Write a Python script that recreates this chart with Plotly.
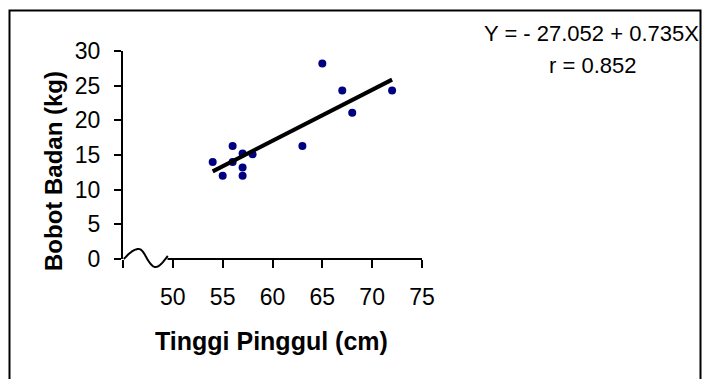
import numpy as np
import plotly.graph_objects as go

# ---- data ----
tinggi = [54, 55, 56, 56, 57, 57, 57, 58, 63, 65, 67, 68, 72]          # Tinggi Pinggul (cm)
bobot = [14.0, 12.0, 16.3, 14.0, 15.2, 13.2, 12.0, 15.1, 16.3, 28.2, 24.3, 21.1, 24.3]  # Bobot Badan (kg)
intercept = -27.052
slope = 0.735
r_value = 0.852
x_ticks = [45, 50, 55, 60, 65, 70, 75]
x_tick_text = ["", "50", "55", "60", "65", "70", "75"]
y_ticks = [0, 5, 10, 15, 20, 25, 30]

# ---- layout geometry (pixels) ----
W, H = 704, 379
ML, MR, MT, MB = 123, 282, 51, 120
PW, PH = W - ML - MR, H - MT - MB
FONT = "Liberation Sans, Arial, sans-serif"


def px(x):
    return (x - ML) / PW


def py(y):
    return (H - MB - y) / PH


fig = go.Figure()

fig.add_trace(go.Scatter(
    x=tinggi, y=bobot, mode="markers",
    marker=dict(color="#000080", size=8, line=dict(width=0)),
    showlegend=False, cliponaxis=False,
))

line_x = np.array([min(tinggi), max(tinggi)], dtype=float)
fig.add_trace(go.Scatter(
    x=line_x, y=intercept + slope * line_x, mode="lines",
    line=dict(color="black", width=4), showlegend=False,
))

# axis-break wave (decoration) built in pixel units relative to the plot origin
def wave_path():
    pts = []
    segs = [
        (0.8, 15.8, lambda s: 10 * np.sin(np.pi / 2 * s)),
        (15.8, 24.2, lambda s: 10 * np.cos(np.pi / 2 * s)),
        (24.2, 32.5, lambda s: -8 * np.sin(np.pi / 2 * s)),
        (32.5, 44.8, lambda s: -8 * np.cos(1.955 * s)),
    ]
    for a, b, f in segs:
        for s in np.linspace(0, 1, 12):
            pts.append((a + (b - a) * s, f(s)))
    d = ""
    for i, (u, v) in enumerate(pts):
        d += ("M" if i == 0 else "L") + f"{u / PW:.5f},{v / PH:.5f} "
    return d

shapes = [
    dict(type="path", path=wave_path(), xref="paper", yref="paper",
         line=dict(color="black", width=2)),
    dict(type="line", xref="paper", yref="paper", x0=44.5 / PW, x1=1, y0=0, y1=0,
         line=dict(color="black", width=2)),
    dict(type="rect", xref="paper", yref="paper", x0=px(9.5), x1=px(700.5), y0=py(10.5), y1=py(390),
         line=dict(color="black", width=2)),
]

annotations = [
    dict(text="Y = - 27.052 + 0.735X", x=px(591), y=py(33), xref="paper", yref="paper",
         showarrow=False, xanchor="center", yanchor="middle",
         font=dict(family=FONT, size=22, color="black")),
    dict(text=f"r = {r_value}", x=px(592), y=py(65), xref="paper", yref="paper",
         showarrow=False, xanchor="center", yanchor="middle",
         font=dict(family=FONT, size=22, color="black")),
    dict(text="<b>Tinggi Pinggul (cm)</b>", x=px(271.5), y=py(341), xref="paper", yref="paper",
         showarrow=False, xanchor="center", yanchor="middle",
         font=dict(family=FONT, size=25, color="black")),
    dict(text="<b>Bobot Badan (kg)</b>", x=px(53), y=py(171), xref="paper", yref="paper",
         showarrow=False, xanchor="center", yanchor="middle", textangle=-90,
         font=dict(family=FONT, size=24, color="black")),
]

fig.update_layout(
    width=W, height=H,
    margin=dict(l=ML, r=MR, t=MT, b=MB, pad=0),
    paper_bgcolor="white", plot_bgcolor="white",
    font=dict(family=FONT, size=22, color="black"),
    shapes=shapes, annotations=annotations,
    xaxis=dict(range=[45, 75], tickvals=x_ticks, ticktext=x_tick_text,
               showline=False, showgrid=False, zeroline=False,
               ticks="outside", ticklen=8, tickwidth=2, tickcolor="black",
               ticklabelstandoff=9, tickfont=dict(family=FONT, size=23)),
    yaxis=dict(range=[0, 30], tickvals=y_ticks,
               showline=True, linecolor="black", linewidth=2, mirror=False,
               showgrid=False, zeroline=False,
               ticks="outside", ticklen=7, tickwidth=2, tickcolor="black",
               ticklabelstandoff=9, tickfont=dict(family=FONT, size=23)),
)

fig.write_html("out.html")
